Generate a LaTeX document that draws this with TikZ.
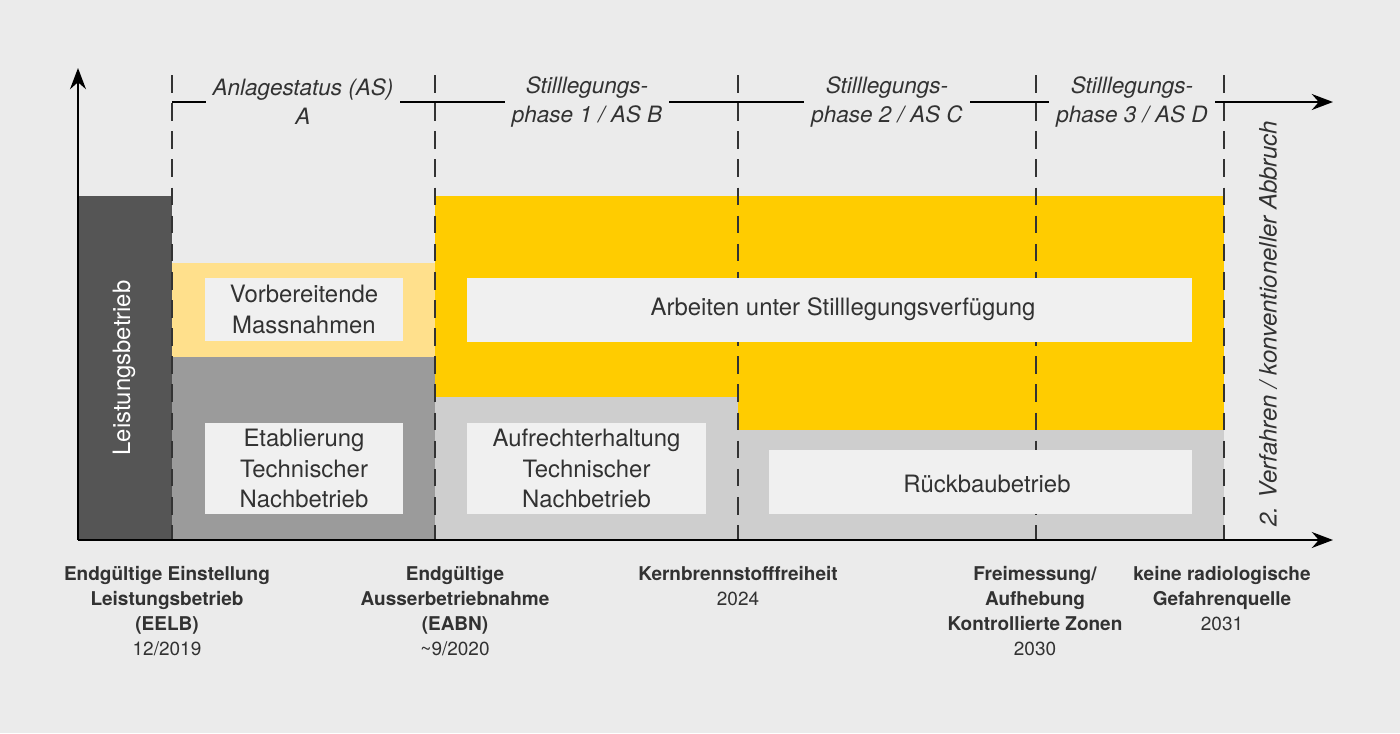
\documentclass[tikz,border=0pt]{standalone}
\usepackage{fontspec}
\setmainfont{TeX Gyre Heros}
\usetikzlibrary{arrows.meta}
\definecolor{bg}{RGB}{235,235,235}
\definecolor{txt}{RGB}{50,50,50}
\definecolor{darkgr}{RGB}{85,85,85}
\definecolor{midgr}{RGB}{155,155,155}
\definecolor{litgr}{RGB}{206,206,206}
\definecolor{gelb}{RGB}{255,204,0}
\definecolor{hellgelb}{RGB}{255,224,140}
\definecolor{boxw}{RGB}{240,240,240}
\newcommand\bigfont{\fontsize{6.8pt}{8.6pt}\selectfont}
\tikzset{
  boxtxt/.style={text=txt, align=center, font=\bigfont},
  toplbl/.style={fill=bg, text=txt, align=center, font=\fontsize{6.4pt}{8.2pt}\selectfont\itshape, inner sep=2pt},
  botlbl/.style={text=txt, align=center, anchor=north, inner sep=0pt},
  sep/.style={thin, black!80, dash pattern=on 5pt off 3pt}
}
\begin{document}
\begin{tikzpicture}[x=0.01cm, y=-0.01cm, font=\fontsize{5.4pt}{7.1pt}\selectfont]
\fill[bg] (0,0) rectangle (1400,733);
\useasboundingbox (0,0) rectangle (1400,733);
    %areas
\fill[darkgr] (78,196) rectangle (172,540);
\fill[hellgelb] (172,263) rectangle (435,357);
\fill[midgr] (172,357) rectangle (435,540);
\fill[gelb] (435,196) rectangle (1224,397);
\fill[gelb] (738,397) rectangle (1224,430);
\fill[litgr] (435,397) rectangle (738,540);
\fill[litgr] (738,430) rectangle (1224,540);
\foreach \x in {172,435,738,1036,1224}
    \draw[sep] (\x,75) -- (\x,540);
    %boxes
\fill[boxw] (205,278) rectangle (403,341);
\node[boxtxt] (vor) at (304,309.5) {Vorbereitende\\Massnahmen};
\fill[boxw] (467,278) rectangle (1192,342);
\node[boxtxt] (arb) at (843,309) {Arbeiten unter Stilllegungsverfügung};
\fill[boxw] (205,423) rectangle (403,514);
\node[boxtxt] (etab) at (304,468.5) {Etablierung\\Technischer\\Nachbetrieb};
\fill[boxw] (467,423) rectangle (706,514);
\node[boxtxt] (aufr) at (586.5,468.5) {Aufrechterhaltung\\Technischer\\Nachbetrieb};
\fill[boxw] (769,450) rectangle (1192,514);
\node[boxtxt] (rueck) at (987,484) {Rückbaubetrieb};
\node[rotate=90, boxtxt, text=white] (leist) at (124,368) {Leistungsbetrieb};
\node[rotate=90, boxtxt, font=\bigfont\itshape] (verf) at (1268,324) {2. Verfahren / konventioneller Abbruch};
    %axes
\coordinate (o) at (78,540);
\coordinate (ytop) at (78,68);
\coordinate (xend) at (1333,540);
\coordinate (tl) at (172,102);
\coordinate (tend) at (1333,102);
\draw[thick, -{Stealth[length=6pt]}] (o) -- (ytop);
\draw[thick, -{Stealth[length=6pt]}] (o) -- (xend);
\draw[thick, -{Stealth[length=6pt]}] (tl) -- (tend);
    %top labels
\node[toplbl] (asA) at (303,102) {Anlagestatus (AS)\\A};
\node[toplbl] (asB) at (587,102) {Stilllegungs-\\phase 1 / AS B};
\node[toplbl] (asC) at (887,102) {Stilllegungs-\\phase 2 / AS C};
\node[toplbl] (asD) at (1132,102) {Stilllegungs-\\phase 3 / AS D};
    %bottom labels
\node[botlbl] (eelb) at (167,566) {\bfseries Endgültige Einstellung\\\bfseries Leistungsbetrieb\\\bfseries (EELB)\\12/2019};
\node[botlbl] (eabn) at (455,566) {\bfseries Endgültige\\\bfseries Ausserbetriebnahme\\\bfseries (EABN)\\\textasciitilde 9/2020};
\node[botlbl] (kern) at (738,566) {\bfseries Kernbrennstofffreiheit\\2024};
\node[botlbl] (frei) at (1035,566) {\bfseries Freimessung/\\\bfseries Aufhebung\\\bfseries Kontrollierte Zonen\\2030};
\node[botlbl] (keine) at (1222,566) {\bfseries keine radiologische\\\bfseries Gefahrenquelle\\2031};
\end{tikzpicture}
\end{document}
